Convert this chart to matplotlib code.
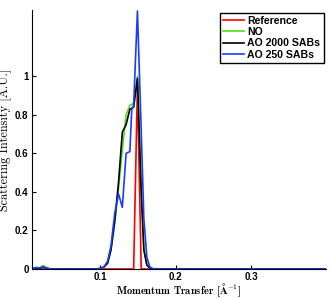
import numpy as np
import matplotlib
matplotlib.use("Agg")
import matplotlib.pyplot as plt
from matplotlib.ticker import FormatStrFormatter

plt.rcParams['mathtext.fontset'] = 'cm'

# momentum transfer grid (1/A)
q = [0.010, 0.015, 0.020, 0.025, 0.030, 0.035, 0.095, 0.100, 0.105, 0.110,
     0.1145, 0.1195, 0.1245, 0.1295, 0.1345, 0.1395, 0.142, 0.1445, 0.1495,
     0.1545, 0.158, 0.162, 0.166, 0.170, 0.175, 0.400]

reference = [0, 0.002, 0.003, 0.006, 0.002, 0, 0, 0, 0, 0,
             0, 0, 0, 0, 0, 0, 0, 0, 0.95,
             0, 0, 0, 0, 0, 0, 0]
no_sab = [0, 0.006, 0.006, 0.018, 0.004, 0, 0, 0.003, 0.01, 0.03,
          0.10, 0.24, 0.42, 0.62, 0.80, 0.85, 0.855, 0.86, 1.0,
          0.42, 0.10, 0.02, 0.005, 0, 0, 0]
ao_2000 = [0, 0.006, 0.005, 0.010, 0.003, 0, 0, 0.003, 0.01, 0.03,
           0.10, 0.25, 0.45, 0.71, 0.75, 0.83, 0.835, 0.84, 0.99,
           0.40, 0.10, 0.02, 0.005, 0, 0, 0]
ao_250 = [0, 0.008, 0.006, 0.008, 0.003, 0, 0, 0.002, 0.01, 0.04,
          0.12, 0.29, 0.39, 0.32, 0.60, 0.61, 0.83, 0.85, 1.34,
          0.72, 0.26, 0.06, 0.01, 0.002, 0, 0]

labels = ['Reference', 'NO', 'AO 2000 SABs', 'AO 250 SABs']
colors = ['#ff0000', '#55dd11', '#000000', '#1a3cff']

fig = plt.figure(figsize=(3.32, 2.98), dpi=100)
ax = fig.add_axes([32/332, 29/298, 294/332, 259/298])

for y, lab, c in zip([reference, no_sab, ao_2000, ao_250], labels, colors):
    ax.plot(q, y, color=c, lw=1.2, label=lab)

ax.set_xlim(0.01, 0.399)
ax.set_ylim(0, 1.345)
ax.spines['right'].set_color("none")
ax.spines['top'].set_color("none")
ax.set_xticks([0.1, 0.2, 0.3])
ax.set_yticks([0, 0.2, 0.4, 0.6, 0.8, 1.0])
ax.yaxis.set_major_formatter(FormatStrFormatter('%g'))
ax.xaxis.set_major_formatter(FormatStrFormatter('%g'))
ax.tick_params(direction='in', length=3, width=0.8, labelsize=7, pad=2.5)
for t in ax.get_xticklabels() + ax.get_yticklabels():
    t.set_fontweight('bold')
    t.set_family('Liberation Sans')

ax.set_xlabel(r'Momentum Transfer [$\mathbf{\AA}^{-1}$]', family='cmb10',
              fontsize=7.6)
ax.xaxis.set_label_coords(0.5, -0.048)
ax.set_ylabel('Scattering Intensity [A.U.]', family='cmr10', fontsize=8.8)
ax.yaxis.set_label_coords(-0.068, 0.5)

leg = ax.legend(loc='upper right', bbox_to_anchor=(0.992, 0.99), fancybox=False,
                edgecolor='black', framealpha=1, handlelength=2.0,
                handletextpad=0.3, borderpad=0.3, labelspacing=0.12,
                borderaxespad=0,
                prop={'family': 'Liberation Sans', 'weight': 'bold', 'size': 7.6})
leg.get_frame().set_linewidth(1.0)

fig.savefig('out.png', dpi=100)
